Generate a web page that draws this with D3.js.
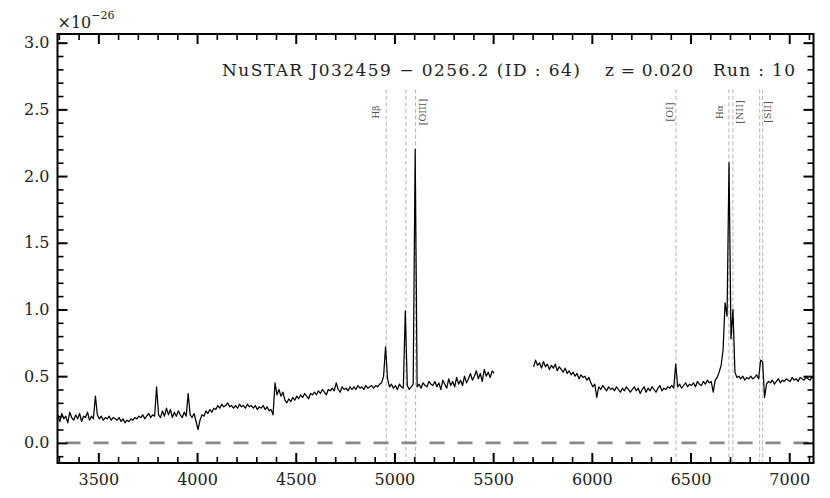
<!DOCTYPE html>
<html>
<head>
<meta charset="utf-8">
<script src="https://cdn.jsdelivr.net/npm/d3@7"></script>
<style>
  body { margin: 0; background: #fff; }
  svg text { font-family: "DejaVu Serif", serif; }
</style>
</head>
<body>
<div id="chart"></div>
<script>
// spectrum, flux in units of 1e-26, sampled every 10 A
const blueStart = 3295;
const redStart = 5705;
const step = 10;
const fluxBlue = [
  0.21,0.16,0.22,0.18,0.20,0.15,0.23,0.19,0.17,0.21,
  0.18,0.22,0.16,0.20,0.19,0.23,0.17,0.20,0.18,0.35,
  0.21,0.18,0.20,0.17,0.19,0.18,0.20,0.17,0.19,0.18,
  0.17,0.19,0.16,0.18,0.15,0.17,0.16,0.18,0.17,0.19,
  0.18,0.20,0.19,0.21,0.18,0.20,0.22,0.19,0.21,0.20,
  0.42,0.21,0.19,0.24,0.20,0.26,0.21,0.25,0.19,0.23,
  0.20,0.24,0.21,0.19,0.23,0.20,0.37,0.21,0.19,0.22,
  0.16,0.10,0.17,0.21,0.20,0.24,0.22,0.25,0.23,0.26,
  0.25,0.28,0.26,0.29,0.27,0.28,0.30,0.27,0.28,0.26,
  0.28,0.26,0.29,0.27,0.28,0.26,0.29,0.27,0.28,0.26,
  0.28,0.25,0.27,0.26,0.28,0.25,0.27,0.24,0.25,0.21,
  0.45,0.36,0.40,0.35,0.38,0.32,0.30,0.33,0.31,0.34,
  0.32,0.35,0.33,0.36,0.34,0.37,0.35,0.33,0.37,0.36,
  0.38,0.36,0.39,0.37,0.40,0.38,0.36,0.40,0.39,0.41,
  0.39,0.45,0.40,0.38,0.42,0.40,0.41,0.39,0.42,0.40,
  0.42,0.40,0.43,0.41,0.42,0.40,0.43,0.41,0.42,0.43,
  0.41,0.43,0.42,0.44,0.45,0.50,0.72,0.48,0.42,0.44,
  0.41,0.43,0.40,0.44,0.42,0.41,0.99,0.43,0.40,0.42,
  0.44,2.20,0.42,0.44,0.41,0.45,0.43,0.42,0.46,0.44,
  0.43,0.46,0.42,0.45,0.40,0.47,0.44,0.41,0.48,0.43,
  0.46,0.42,0.49,0.44,0.47,0.43,0.50,0.45,0.48,0.52,
  0.47,0.50,0.54,0.48,0.52,0.46,0.55,0.50,0.53,0.49,
  0.54,0.52
];
const fluxRed = [
  0.57,0.62,0.58,0.60,0.56,0.61,0.57,0.59,0.55,0.58,
  0.56,0.59,0.54,0.57,0.55,0.53,0.56,0.52,0.54,0.51,
  0.53,0.50,0.52,0.48,0.51,0.49,0.50,0.47,0.49,0.45,
  0.42,0.44,0.34,0.42,0.40,0.43,0.41,0.39,0.42,0.40,
  0.41,0.39,0.42,0.40,0.38,0.41,0.39,0.42,0.40,0.38,
  0.40,0.42,0.39,0.41,0.37,0.40,0.42,0.38,0.41,0.39,
  0.42,0.40,0.38,0.41,0.43,0.39,0.41,0.40,0.42,0.41,
  0.43,0.41,0.59,0.42,0.44,0.41,0.43,0.45,0.42,0.44,
  0.43,0.45,0.42,0.46,0.44,0.43,0.46,0.44,0.47,0.45,
  0.46,0.38,0.47,0.49,0.53,0.58,0.70,1.05,0.95,2.10,
  0.78,1.00,0.53,0.49,0.50,0.48,0.50,0.47,0.49,0.48,
  0.50,0.48,0.49,0.51,0.48,0.62,0.61,0.34,0.44,0.46,
  0.45,0.47,0.44,0.46,0.48,0.45,0.47,0.46,0.48,0.47,
  0.46,0.49,0.47,0.48,0.46,0.49,0.48,0.47,0.49,0.48,
  0.47,0.49,0.48
];

// emission lines (rest wavelength, A)
const z = 0.020;
const lineRest = [4861, 4959, 5007, 6300, 6563, 6583, 6716, 6731];
const labelNames = ["H\u03b2", "[OIII]", "[OI]", "H\u03b1", "[NII]", "[SII]"];
const labelRest = [4861, 5007, 6300, 6563, 6583, 6731];
// label offsets from their line in px, and font sizes
const labelDx = [-10, 7, -6, -9, 7, 5];
const labelSize = [9, 9.5, 9.5, 9, 9.5, 9.5];

const xMajor = [3500, 4000, 4500, 5000, 5500, 6000, 6500, 7000];
const yMajor = [0.0, 0.5, 1.0, 1.5, 2.0, 2.5, 3.0];

const titleParts = ["NuSTAR J032459 \u2212 0256.2 (ID : 64)", "z = 0.020", "Run : 10"];
// left edge and stretched width of each title part, px
const titleX = [222, 605, 713];
const titleLen = [358, 88, 82];

const W = 830, H = 498;
const L = 57.5, R = 813.5, T = 34, B = 463;

const svg = d3.select("#chart").append("svg")
  .attr("width", W).attr("height", H);

const x = d3.scaleLinear().domain([3293, 7123]).range([L, R]);
const y = d3.scaleLinear().domain([-0.151, 3.065]).range([B, T]);

const plot = svg.append("g");
plot.append("clipPath").attr("id", "clip")
  .append("rect").attr("x", L).attr("y", T).attr("width", R - L).attr("height", B - T);

// vertical dashed line markers
const lineTop = 2.65;
plot.selectAll("line.em").data(lineRest).join("line")
  .attr("class", "em")
  .attr("x1", d => x(d * (1 + z))).attr("x2", d => x(d * (1 + z)))
  .attr("y1", y(lineTop)).attr("y2", B)
  .attr("stroke", "#b4b4b4").attr("stroke-width", 1)
  .attr("stroke-dasharray", "4,2.5");

plot.selectAll("text.em").data(labelNames).join("text")
  .attr("class", "em")
  .attr("transform", (d, i) =>
    `translate(${x(labelRest[i] * (1 + z)) + labelDx[i]},${y(2.48)}) rotate(-90)`)
  .attr("text-anchor", "middle")
  .attr("dominant-baseline", "central")
  .attr("font-size", (d, i) => labelSize[i])
  .attr("fill", "#555")
  .text(d => d);

// zero level
plot.append("line")
  .attr("x1", L).attr("x2", R).attr("y1", y(0)).attr("y2", y(0))
  .attr("stroke", "#888").attr("stroke-width", 2.6)
  .attr("stroke-dasharray", "15,13").attr("stroke-dashoffset", -8);

// spectrum
const line = d3.line().x(d => x(d[0])).y(d => y(d[1]));
const blue = fluxBlue.map((f, i) => [blueStart + i * step, f]);
const red = fluxRed.map((f, i) => [redStart + i * step, f]);
plot.selectAll("path.spec").data([blue, red]).join("path")
  .attr("class", "spec")
  .attr("clip-path", "url(#clip)")
  .attr("d", line)
  .attr("fill", "none").attr("stroke", "#000").attr("stroke-width", 1.25)
  .attr("stroke-linejoin", "round");

// axes, ticks pointing inward on all sides
const xMinor = d3.range(3300, 7101, 100).filter(v => v % 500 !== 0);
const yMinor = d3.range(-1, 31).map(v => v / 10).filter(v => Math.round(v * 10) % 5 !== 0);

function tickStyle(g, w) {
  g.select(".domain").remove();
  g.selectAll(".tick line").attr("stroke", "#000").attr("stroke-width", w);
  g.selectAll(".tick text").attr("font-size", 16).attr("fill", "#222");
}

svg.append("g").attr("transform", `translate(0,${B})`)
  .call(d3.axisBottom(x).tickValues(xMajor).tickSize(-10).tickPadding(11).tickFormat(d3.format("d")))
  .call(g => tickStyle(g, 2));
svg.append("g").attr("transform", `translate(0,${B})`)
  .call(d3.axisBottom(x).tickValues(xMinor).tickSize(-6).tickFormat(""))
  .call(g => tickStyle(g, 1.6));
svg.append("g").attr("transform", `translate(0,${T})`)
  .call(d3.axisTop(x).tickValues(xMajor).tickSize(-10).tickFormat(""))
  .call(g => tickStyle(g, 2));
svg.append("g").attr("transform", `translate(0,${T})`)
  .call(d3.axisTop(x).tickValues(xMinor).tickSize(-6).tickFormat(""))
  .call(g => tickStyle(g, 1.6));

svg.append("g").attr("transform", `translate(${L},0)`)
  .call(d3.axisLeft(y).tickValues(yMajor).tickSize(-10).tickPadding(8).tickFormat(d3.format(".1f")))
  .call(g => tickStyle(g, 2));
svg.append("g").attr("transform", `translate(${L},0)`)
  .call(d3.axisLeft(y).tickValues(yMinor).tickSize(-6).tickFormat(""))
  .call(g => tickStyle(g, 1.6));
svg.append("g").attr("transform", `translate(${R},0)`)
  .call(d3.axisRight(y).tickValues(yMajor).tickSize(-10).tickFormat(""))
  .call(g => tickStyle(g, 2));
svg.append("g").attr("transform", `translate(${R},0)`)
  .call(d3.axisRight(y).tickValues(yMinor).tickSize(-6).tickFormat(""))
  .call(g => tickStyle(g, 1.6));

svg.append("rect")
  .attr("x", L).attr("y", T).attr("width", R - L).attr("height", B - T)
  .attr("fill", "none").attr("stroke", "#000").attr("stroke-width", 2);

// offset text
const off = svg.append("text").attr("x", L).attr("y", 28).attr("font-size", 16).attr("fill", "#222");
off.append("tspan").text("\u00d710");
off.append("tspan").attr("dy", -9).attr("font-size", 11).text("\u221226");

// title
svg.selectAll("text.title").data(titleParts).join("text")
  .attr("class", "title")
  .attr("x", (d, i) => titleX[i]).attr("y", 76)
  .attr("textLength", (d, i) => titleLen[i])
  .attr("lengthAdjust", "spacing")
  .attr("font-size", 17).attr("fill", "#222")
  .text(d => d);
</script>
</body>
</html>
